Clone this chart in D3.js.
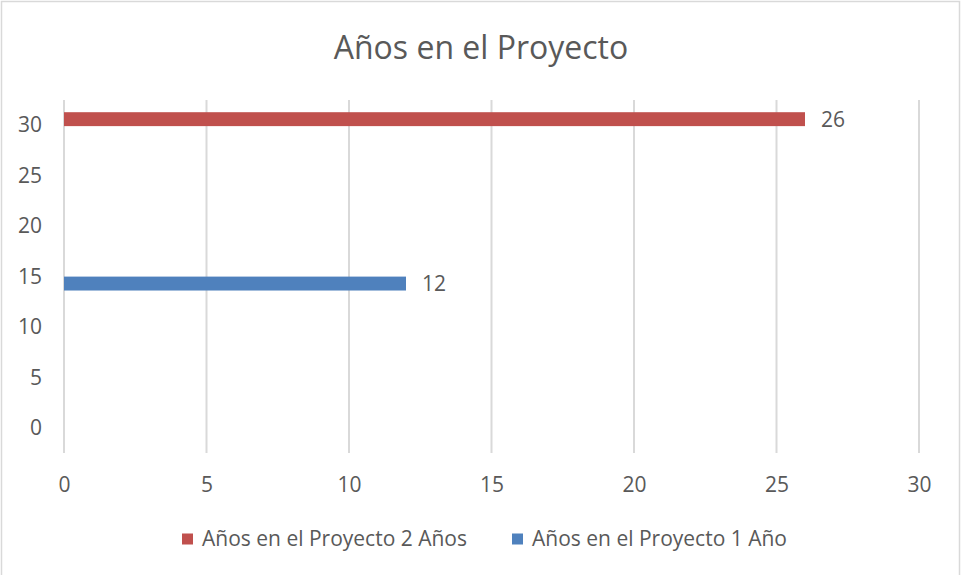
<!DOCTYPE html>
<html>
<head>
<meta charset="utf-8">
<script src="https://cdn.jsdelivr.net/npm/d3@7"></script>
<style>
  html, body { margin: 0; padding: 0; background: #fff; }
  svg { display: block; }
  text { font-family: "Open Sans", sans-serif; fill: #595959; }
</style>
</head>
<body>
<svg id="chart" width="961" height="575"></svg>
<script>
// ---- data ----
const seriesNames = ["Años en el Proyecto 2 Años", "Años en el Proyecto 1 Año"];
const seriesValues = [26, 12];
const seriesPositions = [30.6, 14.3];
const seriesColors = ["#c0504d", "#4f81bd"];
const xTicks = [0, 5, 10, 15, 20, 25, 30];
const yTicks = [0, 5, 10, 15, 20, 25, 30];
const chartTitle = "Años en el Proyecto";

const W = 961, H = 575;
const svg = d3.select("#chart");

// border
svg.append("rect").attr("x", 1.5).attr("y", 1.5).attr("width", W - 3).attr("height", H + 10)
  .attr("fill", "#fff").attr("stroke", "#d9d9d9").attr("stroke-width", 1.5);

const x = d3.scaleLinear().domain([0, 30]).range([64, 919]);
const y = d3.scaleLinear().domain([-2.5, 32.5]).range([453, 100]);
const barThick = 1.38; // in y data units

// title
svg.append("text").attr("x", 481).attr("y", 59).attr("text-anchor", "middle")
  .attr("font-size", 32).text(chartTitle);

// vertical gridlines
svg.append("g").selectAll("line").data(xTicks).join("line")
  .attr("x1", d => x(d)).attr("x2", d => x(d))
  .attr("y1", y(32.5)).attr("y2", y(-2.5))
  .attr("stroke", "#d9d9d9").attr("stroke-width", 2);

// x axis labels
const xAxis = d3.axisBottom(x).tickValues(xTicks).tickSize(0).tickPadding(0);
const gx = svg.append("g").attr("transform", `translate(0,${y(-2.5) + 32})`).call(xAxis);
gx.select(".domain").remove();
gx.selectAll("text").attr("font-size", 21).attr("fill", "#595959").attr("font-family", "Open Sans").attr("dy", "0.35em");

// y axis labels
const yAxis = d3.axisLeft(y).tickValues(yTicks).tickSize(0).tickPadding(0);
const gy = svg.append("g").attr("transform", `translate(42,0)`).call(yAxis);
gy.select(".domain").remove();
gy.selectAll("text").attr("font-size", 21).attr("fill", "#595959").attr("font-family", "Open Sans");

// bars
const data = seriesNames.map((n, i) => ({ name: n, value: seriesValues[i], pos: seriesPositions[i], color: seriesColors[i] }));
svg.append("g").selectAll("rect").data(data).join("rect")
  .attr("x", x(0)).attr("width", d => x(d.value) - x(0))
  .attr("y", d => y(d.pos + barThick / 2)).attr("height", d => y(d.pos - barThick / 2) - y(d.pos + barThick / 2))
  .attr("fill", d => d.color);

// data labels
svg.append("g").selectAll("text").data(data).join("text")
  .attr("x", d => x(d.value) + 16).attr("y", d => y(d.pos)).attr("dy", "0.35em")
  .attr("font-size", 21).text(d => d.value);

// legend
const legendX = [182, 512];
const lg = svg.append("g").selectAll("g").data(data).join("g")
  .attr("transform", (d, i) => `translate(${legendX[i]},539)`);
lg.append("rect").attr("x", 0).attr("y", -5.5).attr("width", 11).attr("height", 11).attr("fill", d => d.color);
lg.append("text").attr("x", 20).attr("y", 0).attr("dy", "0.35em").attr("font-size", 21).text(d => d.name);
</script>
</body>
</html>
